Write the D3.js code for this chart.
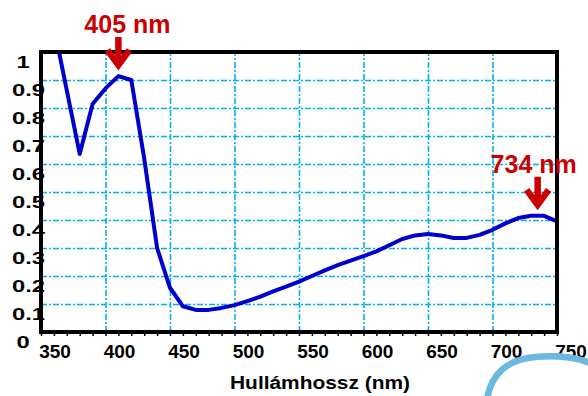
<!DOCTYPE html>
<html lang="hu">
<head>
<meta charset="utf-8">
<title>Abszorpciós spektrum</title>
<script src="https://d3js.org/d3.v7.min.js"></script>
<style>
  body { margin: 0; background: #fff; }
  svg { font-family: "Liberation Sans", Arial, sans-serif; font-weight: bold; }
</style>
</head>
<body>
<svg id="chart" width="588" height="396"></svg>
<script>
// Spectrum (nm -> absorbance)
const wavelengths = [360, 370, 380, 390, 400, 410, 420, 430, 440, 450,
                     460, 470, 480, 490, 500, 510, 520, 530, 540, 550,
                     560, 570, 580, 590, 600, 610, 620, 630, 640, 650,
                     660, 670, 680, 690, 700, 710, 720, 730, 740, 750];
const absorbance = [1.09, 0.863, 0.636, 0.814, 0.87, 0.914, 0.90, 0.62, 0.30, 0.158,
                    0.092, 0.079, 0.079, 0.086, 0.096, 0.11, 0.126, 0.145, 0.162, 0.18,
                    0.20, 0.22, 0.239, 0.255, 0.271, 0.288, 0.31, 0.332, 0.345, 0.35,
                    0.345, 0.336, 0.336, 0.347, 0.365, 0.388, 0.407, 0.415, 0.415, 0.395];

const xTicks = [350, 400, 450, 500, 550, 600, 650, 700, 750];
const yTicks = [0, 0.1, 0.2, 0.3, 0.4, 0.5, 0.6, 0.7, 0.8, 0.9, 1];
const yTickLabels = ["0", "0.1", "0.2", "0.3", "0.4", "0.5", "0.6", "0.7", "0.8", "0.9", "1"];

// peak markers
const peakLabels = ["405 nm", "734 nm"];
const peakWl = [410, 735];
const peakVal = [0.914, 0.415];

const svg = d3.select("#chart");
const pL = 41, pR = 557, pT = 52, pB = 332;

const x = d3.scaleLinear().domain([350, 750]).range([pL, pR]);
const y = d3.scaleLinear().domain([0, 1]).range([pB, pT]);

const grid = "#00b0f0";

// horizontal grid
svg.append("g")
  .attr("transform", `translate(${pL},0)`)
  .call(d3.axisLeft(y).tickValues(yTicks.slice(1, -1)).tickSize(-(pR - pL)).tickFormat(""))
  .call(g => g.select(".domain").remove())
  .selectAll("line")
  .attr("stroke", grid).attr("stroke-width", 1.4).attr("stroke-dasharray", "6,2,2,2");

// vertical grid
svg.append("g")
  .attr("transform", `translate(0,${pB})`)
  .call(d3.axisBottom(x).tickValues(xTicks.slice(1, -1)).tickSize(-(pB - pT)).tickFormat(""))
  .call(g => g.select(".domain").remove())
  .selectAll("line")
  .attr("stroke", grid).attr("stroke-width", 1.6).attr("stroke-dasharray", "6,2,2,2");

// data line
svg.append("clipPath").attr("id", "plot")
  .append("rect").attr("x", pL).attr("y", pT).attr("width", pR - pL).attr("height", pB - pT);

const line = d3.line()
  .x((d, i) => x(wavelengths[i]))
  .y(d => y(d));

svg.append("path")
  .datum(absorbance)
  .attr("clip-path", "url(#plot)")
  .attr("d", line)
  .attr("fill", "none")
  .attr("stroke", "#0000cc")
  .attr("stroke-width", 4)
  .attr("stroke-linejoin", "round");

// minor ticks under the x axis
svg.append("g")
  .attr("transform", `translate(0,${pB})`)
  .call(d3.axisBottom(x).tickValues(d3.range(350, 751, 10)).tickSize(4).tickFormat(""))
  .call(g => g.select(".domain").remove())
  .selectAll("line").attr("stroke", "#000").attr("stroke-width", 1.5);

// frame
svg.append("rect")
  .attr("x", pL).attr("y", pT)
  .attr("width", pR - pL).attr("height", pB - pT)
  .attr("fill", "none").attr("stroke", "#000").attr("stroke-width", 4);

// x tick labels
svg.append("g")
  .selectAll("text")
  .data(xTicks)
  .join("text")
  .attr("x", d => x(d) + 14)
  .attr("y", 358)
  .attr("text-anchor", "middle")
  .attr("font-size", 19)
  .attr("fill", "#000")
  .text(d => d);

// y tick labels (stretched wide in the original)
svg.append("g")
  .selectAll("text")
  .data(yTicks)
  .join("text")
  .attr("transform", (d, i) => {
    const isInt = yTickLabels[i].length === 1;
    return `translate(${isInt ? 23 : 12},${y(d) + 15.5}) scale(1.4,1)`;
  })
  .attr("text-anchor", (d, i) => yTickLabels[i].length === 1 ? "middle" : "start")
  .attr("font-size", 17)
  .attr("fill", "#000")
  .text((d, i) => yTickLabels[i]);

// axis title
svg.append("text")
  .attr("transform", "translate(320,389) scale(1.1,1)")
  .attr("text-anchor", "middle")
  .attr("font-size", 19)
  .attr("fill", "#000")
  .text("Hullámhossz (nm)");

// peak arrows and labels
const red = "#cc0000";
const labelDx = [9, -4];
peakLabels.forEach((lab, i) => {
  const px = x(peakWl[i]);
  const tip = y(peakVal[i]) - 6;
  const g = svg.append("g").attr("transform", `translate(${px},${tip})`);
  g.append("path")
    .attr("d", "M0,-33L0,-6M-11,-20L0,-5L11,-20")
    .attr("fill", "none")
    .attr("stroke", red)
    .attr("stroke-width", 6.5)
    .attr("stroke-linejoin", "miter");
  g.append("text")
    .attr("x", labelDx[i])
    .attr("y", -37)
    .attr("text-anchor", "middle")
    .attr("font-size", 25)
    .attr("fill", red)
    .text(lab);
});

// light blue arc peeking in at the bottom right
svg.append("path")
  .attr("d", "M487,398C492,375 505,360 535,357C560,355 578,358 590,363")
  .attr("fill", "none")
  .attr("stroke", "#6bb8e0")
  .attr("stroke-width", 6.5)
  .attr("stroke-linecap", "round");
</script>
</body>
</html>
